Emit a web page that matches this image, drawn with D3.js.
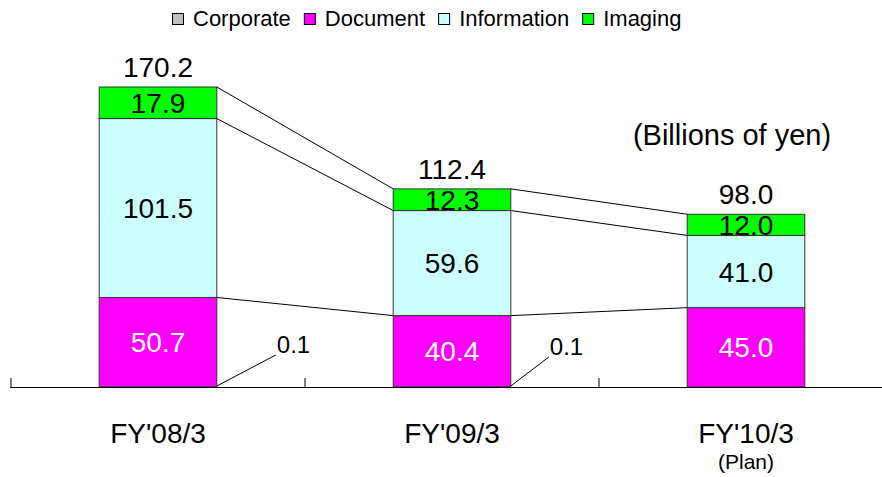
<!DOCTYPE html>
<html><head><meta charset="utf-8">
<script src="https://cdn.jsdelivr.net/npm/d3@7/dist/d3.min.js"></script>
<style>body{margin:0;background:#fff}svg{display:block}text{font-family:"Liberation Sans",Arial,sans-serif}</style>
</head><body><svg id="c" width="882" height="477"></svg>
<script>
const categories = ["FY'08/3", "FY'09/3", "FY'10/3"];
const subLabels = ["", "", "(Plan)"];
const seriesNames = ["Corporate", "Document", "Information", "Imaging"];
const seriesColors = ["#c0c0c0", "#ff00ff", "#ccffff", "#00ff00"];
const corporate = [0.1, 0.1, 0.0];
const documentV = [50.7, 40.4, 45.0];
const information = [101.5, 59.6, 41.0];
const imaging = [17.9, 12.3, 12.0];
const totals = [170.2, 112.4, 98.0];
const unitLabel = "(Billions of yen)";

const series = [corporate, documentV, information, imaging];
const svg = d3.select("#c");
const x = d3.scaleBand().domain(categories).range([11, 893]).paddingInner(0.6).paddingOuter(0.3);
const y = d3.scaleLinear().domain([0, 170.2]).range([387, 87]);

const rows = categories.map((c, i) => {
  const r = {cat: c};
  seriesNames.forEach((s, k) => r[s] = series[k][i]);
  return r;
});
const stacked = d3.stack().keys(seriesNames)(rows);

// connectors
for (let k = 1; k < stacked.length; k++) {
  for (let i = 0; i < categories.length - 1; i++) {
    svg.append("line")
      .attr("x1", x(categories[i]) + x.bandwidth()).attr("y1", y(stacked[k][i][1]))
      .attr("x2", x(categories[i + 1])).attr("y2", y(stacked[k][i + 1][1]))
      .attr("stroke", "#000").attr("stroke-width", 1);
  }
}

// bars
stacked.forEach((layer, k) => {
  svg.append("g").selectAll("rect").data(layer).join("rect")
    .attr("x", (d, i) => x(categories[i]))
    .attr("y", d => y(d[1]))
    .attr("width", x.bandwidth())
    .attr("height", d => Math.max(0, y(d[0]) - y(d[1])))
    .attr("fill", seriesColors[k])
    .attr("stroke", k === 0 ? "none" : "#333")
    .attr("stroke-width", 1);
});

// axis
svg.append("line").attr("x1", 10).attr("x2", 882).attr("y1", 387.5).attr("y2", 387.5).attr("stroke", "#000");
categories.map(c => x(c) - x.step() * 0.3).forEach(t => {
  svg.append("line").attr("x1", t).attr("x2", t).attr("y1", 378).attr("y2", 387.5).attr("stroke", "#000");
});

// segment labels
stacked.forEach((layer, k) => {
  if (k === 0) return;
  layer.forEach((d, i) => {
    svg.append("text")
      .attr("x", x(categories[i]) + x.bandwidth() / 2)
      .attr("y", (y(d[0]) + y(d[1])) / 2)
      .attr("dy", "0.36em")
      .attr("text-anchor", "middle")
      .attr("font-size", 28)
      .attr("fill", k === 1 ? "#fff" : "#000")
      .text(series[k][i].toFixed(1));
  });
});

// totals
totals.forEach((t, i) => {
  svg.append("text")
    .attr("x", x(categories[i]) + x.bandwidth() / 2)
    .attr("y", y(t) - 10)
    .attr("text-anchor", "middle").attr("font-size", 28)
    .text(t.toFixed(1));
});

// corporate callouts
const callOff = [[59, 31], [38, 29]];
corporate.forEach((v, i) => {
  if (v <= 0) return;
  const x0 = x(categories[i]) + x.bandwidth(), y0 = y(0) - 1;
  const [dx, dy] = callOff[i];
  svg.append("line").attr("x1", x0).attr("y1", y0).attr("x2", x0 + dx).attr("y2", y0 - dy)
    .attr("stroke", "#000");
  svg.append("text").attr("x", x0 + dx + 1).attr("y", y0 - dy - 2)
    .attr("font-size", 24).text(v.toFixed(1));
});

// category labels
categories.forEach((c, i) => {
  const cx = x(c) + x.bandwidth() / 2;
  svg.append("text").attr("x", cx).attr("y", 443).attr("text-anchor", "middle")
    .attr("font-size", 28).text(c);
  if (subLabels[i]) {
    svg.append("text").attr("x", cx).attr("y", 469).attr("text-anchor", "middle")
      .attr("font-size", 21).text(subLabels[i]);
  }
});

// unit label
svg.append("text").attr("x", 732).attr("y", 145).attr("text-anchor", "middle")
  .attr("font-size", 29).text(unitLabel);

// legend
let lx = 172;
seriesNames.forEach((s, k) => {
  const g = svg.append("g");
  g.append("rect").attr("x", lx + 0.5).attr("y", 13.5).attr("width", 11).attr("height", 11)
    .attr("fill", seriesColors[k]).attr("stroke", "#000");
  const t = g.append("text").attr("x", lx + 21).attr("y", 26).attr("font-size", 22).text(s);
  lx += 21 + t.node().getComputedTextLength() + 13;
});
</script></body></html>
